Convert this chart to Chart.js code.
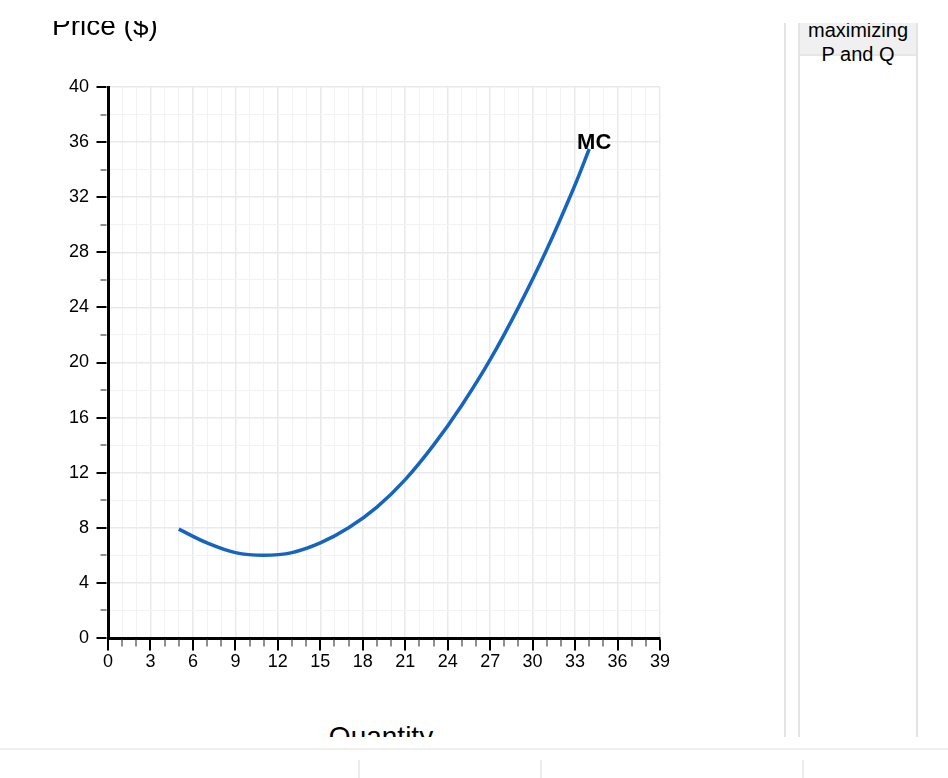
<!DOCTYPE html>
<html>
<head>
<meta charset="utf-8">
<script src="https://cdn.jsdelivr.net/npm/chart.js@4.4.1/dist/chart.umd.min.js"></script>
<style>
  html, body { margin:0; padding:0; background:#fff; }
  body { width:948px; height:778px; overflow:hidden; position:relative; font-family:"Liberation Sans", Arial, Helvetica, sans-serif; color:#000; }
  .abs { position:absolute; }
  #leftClip { position:absolute; left:0; top:0; width:780px; height:778px; clip-path: inset(21px 0 41px 0); }
  #rightClip { position:absolute; left:780px; top:0; width:168px; height:778px; clip-path: inset(23px 0 41px 0); }
  .vline { position:absolute; width:2px; background:#e3e3e3; }
</style>
</head>
<body>
<div id="leftClip">
  <canvas id="chart" width="700" height="700" class="abs" style="left:0;top:0;width:700px;height:700px"></canvas>
  <div class="abs" style="left:52px;top:12px;font-size:28px;line-height:28px;white-space:nowrap">Price ($)</div>
  <div class="abs" style="left:281px;width:200px;text-align:center;top:723px;font-size:28px;line-height:28px;white-space:nowrap">Quantity</div>
</div>
<div id="rightClip">
  <div class="vline" style="left:4px;top:0;height:737px"></div>
  <div class="abs" style="left:20px;top:0;width:116px;height:54px;background:#f0f0f0"></div>
  <div class="abs" style="left:20px;top:54px;width:116px;height:2px;background:#e6e6e6"></div>
  <div class="vline" style="left:18px;top:0;height:737px"></div>
  <div class="vline" style="left:136px;top:0;height:737px"></div>
  <div class="abs" style="left:20px;width:116px;top:18px;font-size:20px;line-height:24px;text-align:center">maximizing<br>P and Q</div>
</div>
<div class="abs" style="left:0;top:748px;width:948px;height:2px;background:#efefef"></div>
<div class="abs" style="left:358px;top:760px;width:2px;height:18px;background:#ececec"></div>
<div class="abs" style="left:540px;top:760px;width:2px;height:18px;background:#ececec"></div>
<div class="abs" style="left:802px;top:760px;width:2px;height:18px;background:#ececec"></div>

<script>
// ---- data ----
const quantity = [5, 7, 9, 11, 13, 15, 17, 19, 21, 23, 25, 27, 29, 31, 33, 34];
const mcValues = [7.9, 6.9, 6.2, 6.0, 6.2, 6.9, 8.0, 9.5, 11.5, 14.0, 16.9, 20.2, 24.0, 28.2, 32.9, 35.5];
const xTickLabels = [0, 3, 6, 9, 12, 15, 18, 21, 24, 27, 30, 33, 36, 39];
const yTickLabels = [0, 4, 8, 12, 16, 20, 24, 28, 32, 36, 40];
const curveLabel = 'MC';

const FONT = '"Liberation Sans", Arial, Helvetica, sans-serif';
const xMax = xTickLabels[xTickLabels.length - 1];
const yMax = yTickLabels[yTickLabels.length - 1];

const tickPlugin = {
  id: 'ticksAndLabel',
  afterDraw(chart) {
    const ctx = chart.ctx;
    const xs = chart.scales.x, ys = chart.scales.y;
    const axisY = ys.getPixelForValue(0);
    const axisX = xs.getPixelForValue(0);
    ctx.save();
    for (let v = 0; v <= xMax; v++) {
      const major = xTickLabels.includes(v);
      const px = Math.round(xs.getPixelForValue(v));
      ctx.beginPath();
      ctx.strokeStyle = major ? '#000' : '#444';
      ctx.lineWidth = major ? 2 : 1.2;
      ctx.moveTo(px, axisY + 1.5);
      ctx.lineTo(px, axisY + 1.5 + (major ? 11 : 7));
      ctx.stroke();
    }
    for (let v = 0; v <= yMax; v += 2) {
      const major = yTickLabels.includes(v);
      const py = Math.round(ys.getPixelForValue(v));
      ctx.beginPath();
      ctx.strokeStyle = major ? '#000' : '#444';
      ctx.lineWidth = major ? 2 : 1.2;
      ctx.moveTo(axisX - 1.5, py);
      ctx.lineTo(axisX - 1.5 - (major ? 10 : 6), py);
      ctx.stroke();
    }
    const meta = chart.getDatasetMeta(0);
    const last = meta.data[meta.data.length - 1];
    ctx.fillStyle = '#000';
    ctx.font = 'bold 22px ' + FONT;
    ctx.textAlign = 'center';
    ctx.textBaseline = 'alphabetic';
    ctx.fillText(curveLabel, last.x + 5, last.y);
    ctx.restore();
  }
};

new Chart(document.getElementById('chart'), {
  type: 'line',
  data: {
    datasets: [{
      label: curveLabel,
      data: quantity.map((q, i) => ({ x: q, y: mcValues[i] })),
      borderColor: '#1565c0',
      borderWidth: 3.5,
      pointRadius: 0,
      fill: false,
      tension: 0.4
    }]
  },
  options: {
    responsive: false,
    animation: false,
    devicePixelRatio: 1,
    layout: { padding: { top: 87, right: 40, left: 0, bottom: 0 } },
    plugins: { legend: { display: false }, tooltip: { enabled: false } },
    scales: {
      x: {
        type: 'linear',
        min: 0, max: xMax,
        border: { color: '#000', width: 3 },
        grid: {
          drawTicks: false,
          color: c => (c.tick && xTickLabels.includes(c.tick.value)) ? '#e9e9e9' : '#f2f2f2',
          lineWidth: c => (c.tick && xTickLabels.includes(c.tick.value)) ? 1.5 : 1
        },
        ticks: {
          stepSize: 1,
          autoSkip: false,
          maxRotation: 0,
          padding: 13,
          color: '#000',
          font: { family: FONT, size: 18 },
          callback: v => xTickLabels.includes(v) ? String(v) : ''
        },
        afterFit: s => { s.height = 62; s.paddingLeft = 0; s.paddingRight = 0; }
      },
      y: {
        type: 'linear',
        min: 0, max: yMax,
        border: { color: '#000', width: 3 },
        grid: {
          drawTicks: false,
          color: c => (c.tick && yTickLabels.includes(c.tick.value)) ? '#e9e9e9' : '#f2f2f2',
          lineWidth: c => (c.tick && yTickLabels.includes(c.tick.value)) ? 1.5 : 1
        },
        ticks: {
          stepSize: 2,
          autoSkip: false,
          padding: 19,
          color: '#000',
          font: { family: FONT, size: 18 },
          callback: v => yTickLabels.includes(v) ? String(v) : ''
        },
        afterFit: s => { s.width = 108; s.paddingTop = 0; s.paddingBottom = 0; }
      }
    }
  },
  plugins: [tickPlugin]
});
</script>
</body>
</html>
